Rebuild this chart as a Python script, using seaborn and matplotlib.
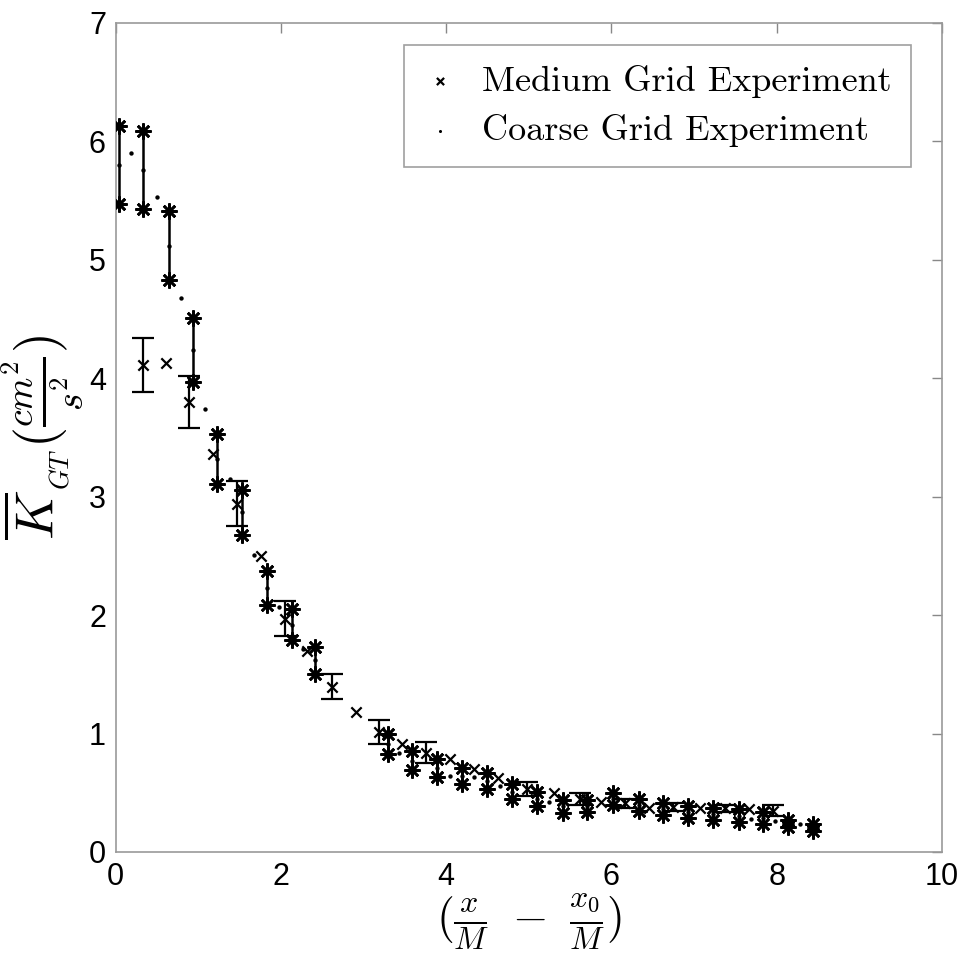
import numpy as np
import matplotlib
matplotlib.use("Agg")
import matplotlib.pyplot as plt
import seaborn as sns

# ── data ────────────────────────────────────────────────────────────────────
coarse_x = [0.04, 0.19, 0.33, 0.50, 0.64, 0.79, 0.93, 1.08, 1.23, 1.38, 1.53,
            1.67, 1.83, 1.98, 2.13, 2.27, 2.41, 3.29, 3.43, 3.59, 3.89, 4.05,
            4.19, 4.34, 4.50, 4.65, 4.80, 5.10, 5.25, 5.41, 5.71, 6.02, 6.34,
            6.63, 6.93, 7.23, 7.54, 7.69, 7.84, 7.98, 8.14, 8.28, 8.44]
coarse_y = [5.80, 5.90, 5.76, 5.53, 5.12, 4.68, 4.24, 3.74, 3.32, 3.15, 2.87,
            2.51, 2.23, 2.07, 1.92, 1.71, 1.62, 0.915, 0.835, 0.77, 0.71, 0.64,
            0.64, 0.635, 0.60, 0.56, 0.51, 0.45, 0.425, 0.385, 0.39, 0.45, 0.40,
            0.36, 0.335, 0.32, 0.305, 0.275, 0.29, 0.26, 0.24, 0.24, 0.21]
coarse_err = [0.33, np.nan, 0.33, np.nan, 0.29, np.nan, 0.27, np.nan, 0.21,
              np.nan, 0.19, np.nan, 0.145, np.nan, 0.13, np.nan, 0.115, 0.085,
              np.nan, 0.08, 0.075, np.nan, 0.07, np.nan, 0.07, np.nan, 0.065,
              0.06, np.nan, 0.055, 0.05, 0.05, 0.05, 0.05, 0.05, 0.05, 0.055,
              np.nan, 0.05, np.nan, 0.03, np.nan, 0.03]

medium_x = [0.33, 0.61, 0.89, 1.18, 1.47, 1.76, 2.05, 2.31, 2.62, 2.91, 3.19,
            3.47, 3.76, 4.05, 4.34, 4.63, 4.98, 5.30, 5.62, 5.88, 6.17, 6.46,
            6.75, 7.07, 7.38, 7.66, 7.96]
medium_y = [4.11, 4.13, 3.80, 3.36, 2.94, 2.50, 1.97, 1.70, 1.395, 1.18, 1.015,
            0.91, 0.84, 0.785, 0.70, 0.625, 0.53, 0.495, 0.45, 0.42, 0.41, 0.37,
            0.38, 0.37, 0.37, 0.36, 0.35]
medium_err = [0.23, np.nan, 0.22, np.nan, 0.19, np.nan, 0.145, np.nan, 0.105,
              np.nan, 0.10, np.nan, 0.09, np.nan, np.nan, np.nan, 0.06, np.nan,
              0.05, np.nan, 0.035, np.nan, 0.03, np.nan, 0.03, np.nan, 0.045]

sns.set_style("white")
plt.rcParams["font.family"] = ["Liberation Sans", "DejaVu Sans"]
plt.rcParams["mathtext.fontset"] = "cm"
plt.rcParams["text.color"] = "black"
plt.rcParams["axes.labelcolor"] = "black"
plt.rcParams["xtick.labelcolor"] = "black"
plt.rcParams["ytick.labelcolor"] = "black"

cx, cy, ce = map(np.asarray, (coarse_x, coarse_y, coarse_err))
mx, my, me = map(np.asarray, (medium_x, medium_y, medium_err))
cb = ~np.isnan(ce)
mb = ~np.isnan(me)

fig = plt.figure(figsize=(9.69, 9.56), dpi=100)
ax = fig.add_axes([0.1194, 0.1088, 0.8526, 0.8672])

# medium grid: x markers, capped error bars
ax.errorbar(mx[mb], my[mb], yerr=me[mb], fmt="none", ecolor="black",
            elinewidth=1.6, capsize=7.8, capthick=1.6)
sns.scatterplot(x=mx, y=my, marker="x", s=55, color="black", linewidth=1.6,
                ax=ax, label="Medium Grid Experiment", zorder=3)

# coarse grid: dots, bars ending in asterisks
ax.vlines(cx[cb], cy[cb] - ce[cb], cy[cb] + ce[cb], color="black", lw=1.8)
for sgn in (-1, 1):
    ax.plot(cx[cb], cy[cb] + sgn * ce[cb], ls="none", marker=(8, 2, 0),
            ms=11.5, mew=1.9, color="black", zorder=4)
sns.scatterplot(x=cx, y=cy, marker="o", s=10, color="black", linewidth=0,
                ax=ax, label="Coarse Grid Experiment", zorder=4)

ax.set_xlim(0, 10)
ax.set_ylim(0, 7)
ax.set_xticks(range(0, 11, 2))
ax.set_yticks(range(0, 8))
ax.tick_params(direction="in", length=7, width=1, color="#888888",
               labelsize=22, top=True, right=True, pad=7)
for s in ax.spines.values():
    s.set_color("#999999")
    s.set_linewidth(1.2)

ax.set_xlabel(r"$(\frac{x}{M}\ -\ \frac{x_0}{M})$", fontsize=33, labelpad=0)
ax.set_ylabel(r"$\overline{K}_{_{GT}}(\frac{cm^2}{s^2})$", fontsize=39,
              labelpad=3)

leg = ax.legend(loc="upper right", bbox_to_anchor=(0.9625, 0.9735),
                borderaxespad=0, fancybox=False, frameon=True,
                prop={"family": "cmr10", "size": 26}, handlelength=0.9,
                handletextpad=0.7, borderpad=0.55, labelspacing=0.45,
                markerscale=0.7)
leg.get_frame().set_edgecolor("#888888")
leg.get_frame().set_linewidth(1.2)

fig.savefig("out.png", dpi=100)
